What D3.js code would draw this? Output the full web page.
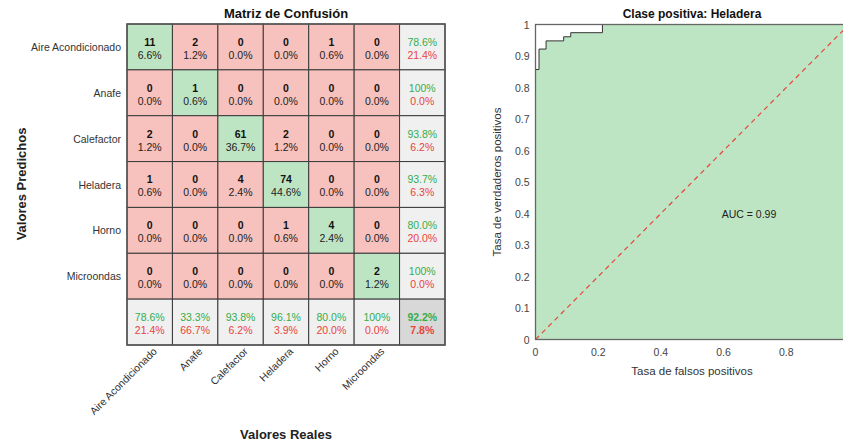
<!DOCTYPE html>
<html><head><meta charset="utf-8">
<script src="https://cdn.jsdelivr.net/npm/d3@7"></script>
<style>
html,body{margin:0;padding:0;background:#fff;overflow:hidden;}
svg{display:block;font-family:"Liberation Sans",Arial,Helvetica,sans-serif;}
</style></head>
<body>
<svg id="chart" width="843" height="443"></svg>
<script>
// ---- data ----
const classes = ["Aire Acondicionado","Anafe","Calefactor","Heladera","Horno","Microondas"];
// rows = predicted, columns = real
const counts = [
  [11, 2, 0, 0, 1, 0],
  [0, 1, 0, 0, 0, 0],
  [2, 0, 61, 2, 0, 0],
  [1, 0, 4, 74, 0, 0],
  [0, 0, 0, 1, 4, 0],
  [0, 0, 0, 0, 0, 2]
];
const rowCorrect = [78.6, 100, 93.8, 93.7, 80.0, 100];
const colCorrect = [78.6, 33.3, 93.8, 96.1, 80.0, 100];
const overallCorrect = 92.2;

const rocFpr = [0, 0, 0.0112, 0.0112, 0.0337, 0.0337, 0.0899, 0.0899, 0.1124, 0.1124, 0.2135, 0.2135, 1];
const rocTpr = [0, 0.857, 0.857, 0.922, 0.922, 0.948, 0.948, 0.961, 0.961, 0.974, 0.974, 1, 1];
const aucLabel = "AUC = 0.99";
const rocTicksY = [0,0.1,0.2,0.3,0.4,0.5,0.6,0.7,0.8,0.9,1];
const rocTicksX = [0,0.2,0.4,0.6,0.8];

const svg = d3.select("#chart");
const GREEN_BG = "#bde5c4", RED_BG = "#f7c1bd", GREY_BG = "#f0f0f0", DGREY_BG = "#d8d8d8";
const GREEN_TX = "#35ad4b", RED_TX = "#e8443a";
const FS = "10.5px";

// ---- confusion matrix ----
const idx = d3.range(7);
const xs = d3.scaleBand().domain(idx).range([127, 445]);
const ys = d3.scaleBand().domain(idx).range([24, 345]);
const total = d3.sum(counts.flat());
const fmt = v => (v === 100 ? "100%" : (v).toFixed(1) + "%");

const cm = svg.append("g");
const cells = [];
for (let r = 0; r < 7; r++) for (let c = 0; c < 7; c++) cells.push({r, c});
const g = cm.selectAll("g.cell").data(cells).enter().append("g")
  .attr("transform", d => `translate(${xs(d.c)},${ys(d.r)})`);
g.append("rect")
  .attr("width", xs.bandwidth()).attr("height", ys.bandwidth())
  .attr("fill", d => {
    if (d.r === 6 && d.c === 6) return DGREY_BG;
    if (d.r === 6 || d.c === 6) return GREY_BG;
    return d.r === d.c ? GREEN_BG : RED_BG;
  })
  .attr("stroke", "#3a3a3a").attr("stroke-width", 1);

const cx = xs.bandwidth() / 2, cy = ys.bandwidth() / 2;
g.each(function(d) {
  const s = d3.select(this);
  let top, bot, topColor, botColor, topWeight = "bold", botWeight = "normal";
  if (d.r < 6 && d.c < 6) {
    top = String(counts[d.r][d.c]);
    bot = (counts[d.r][d.c] / total * 100).toFixed(1) + "%";
    topColor = "#111"; botColor = "#222";
  } else {
    let v;
    if (d.r === 6 && d.c === 6) { v = overallCorrect; }
    else if (d.c === 6) v = rowCorrect[d.r];
    else v = colCorrect[d.c];
    top = fmt(v); bot = fmt(+(100 - v).toFixed(1));
    topColor = GREEN_TX; botColor = RED_TX;
    const b = (d.r === 6 && d.c === 6);
    topWeight = b ? "bold" : "normal"; botWeight = b ? "bold" : "normal";
  }
  s.append("text").attr("x", cx).attr("y", cy - 1).attr("text-anchor", "middle")
    .attr("font-size", FS).attr("font-weight", topWeight).attr("fill", topColor).text(top);
  s.append("text").attr("x", cx).attr("y", cy + 12).attr("text-anchor", "middle")
    .attr("font-size", FS).attr("font-weight", botWeight).attr("fill", botColor).text(bot);
});
// outer border
cm.append("rect").attr("x", 127).attr("y", 24).attr("width", 318).attr("height", 321)
  .attr("fill", "none").attr("stroke", "#555").attr("stroke-width", 1.5);

// row labels
cm.selectAll("text.rl").data(classes).enter().append("text")
  .attr("x", 121).attr("y", (d, i) => ys(i) + ys.bandwidth() / 2 + 4)
  .attr("text-anchor", "end").attr("font-size", FS).attr("fill", "#333").text(d => d);
// column labels rotated
cm.selectAll("text.cl").data(classes).enter().append("text")
  .attr("transform", (d, i) => `translate(${xs(i) + xs.bandwidth() / 2 + 8},${352}) rotate(-45)`)
  .attr("text-anchor", "end").attr("font-size", FS).attr("fill", "#333").text(d => d);

cm.append("text").attr("x", 286).attr("y", 18).attr("text-anchor", "middle")
  .attr("font-size", "13px").attr("font-weight", "bold").attr("fill", "#111").text("Matriz de Confusión");
cm.append("text").attr("x", 286).attr("y", 439).attr("text-anchor", "middle")
  .attr("font-size", "13px").attr("font-weight", "bold").attr("fill", "#222").text("Valores Reales");
cm.append("text").attr("transform", "translate(26,184) rotate(-90)").attr("text-anchor", "middle")
  .attr("font-size", "13px").attr("font-weight", "bold").attr("fill", "#222").text("Valores Predichos");

// ---- ROC ----
const xr = d3.scaleLinear().domain([0, 1]).range([535.5, 849]);
const yr = d3.scaleLinear().domain([0, 1]).range([339.5, 24.5]);
const roc = svg.append("g");
const pts = rocFpr.map((f, i) => [f, rocTpr[i]]);
roc.append("path").datum(pts)
  .attr("d", d3.area().x(d => xr(d[0])).y0(yr(0)).y1(d => yr(d[1])))
  .attr("fill", "#bde5c4").attr("stroke", "none");
roc.append("path").datum(pts)
  .attr("d", d3.line().x(d => xr(d[0])).y(d => yr(d[1])))
  .attr("fill", "none").attr("stroke", "#333").attr("stroke-width", 1);
roc.append("line").attr("x1", xr(0)).attr("y1", yr(0)).attr("x2", xr(1)).attr("y2", yr(1))
  .attr("stroke", RED_TX).attr("stroke-width", 1.2).attr("stroke-dasharray", "5,4");
// box
roc.append("rect").attr("x", xr(0)).attr("y", yr(1)).attr("width", xr(1) - xr(0)).attr("height", yr(0) - yr(1))
  .attr("fill", "none").attr("stroke", "#666").attr("stroke-width", 1.3);

roc.selectAll("text.yt").data(rocTicksY).enter().append("text")
  .attr("x", xr(0) - 6).attr("y", d => yr(d) + 4).attr("text-anchor", "end")
  .attr("font-size", FS).attr("fill", "#444").text(d => d3.format("~g")(d));
roc.selectAll("text.xt").data(rocTicksX).enter().append("text")
  .attr("x", d => xr(d)).attr("y", 356).attr("text-anchor", "middle")
  .attr("font-size", FS).attr("fill", "#444").text(d => d3.format("~g")(d));

roc.append("text").attr("x", 692).attr("y", 18).attr("text-anchor", "middle")
  .attr("font-size", "12px").attr("font-weight", "bold").attr("fill", "#111").text("Clase positiva: Heladera");
roc.append("text").attr("x", 692).attr("y", 375).attr("text-anchor", "middle")
  .attr("font-size", "11.5px").attr("fill", "#333").text("Tasa de falsos positivos");
roc.append("text").attr("transform", "translate(501,182) rotate(-90)").attr("text-anchor", "middle")
  .attr("font-size", "11.5px").attr("fill", "#333").text("Tasa de verdaderos positivos");
roc.append("text").attr("x", 749).attr("y", 218).attr("text-anchor", "middle")
  .attr("font-size", FS).attr("fill", "#222").text(aucLabel);
</script>
</body></html>
